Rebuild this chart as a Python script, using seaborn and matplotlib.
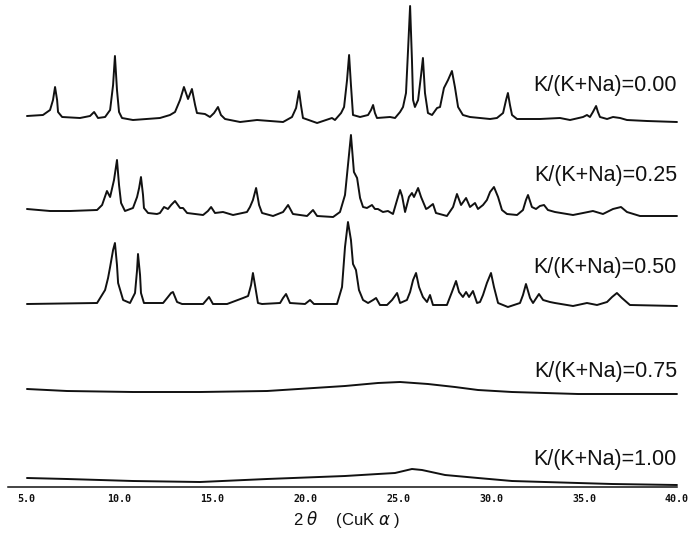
import numpy as np
import pandas as pd
import matplotlib
matplotlib.use('Agg')
import matplotlib.pyplot as plt
import seaborn as sns

# XRD patterns (2theta in degrees, intensity in arbitrary units)
samples = ['K/(K+Na)=0.00', 'K/(K+Na)=0.25', 'K/(K+Na)=0.50',
           'K/(K+Na)=0.75', 'K/(K+Na)=1.00']
offsets = [415, 323, 229, 141, 52]

tt_000 = [5.05, 5.91, 6.29, 6.45, 6.56, 6.67, 6.72, 6.94, 7.90, 8.44, 8.66, 8.87,
          9.25, 9.52, 9.68, 9.78, 9.89, 10.00, 10.16, 10.75, 12.20, 12.74, 13.01,
          13.28, 13.49, 13.71, 13.92, 14.09, 14.19, 14.62, 14.89, 15.11, 15.32,
          15.48, 15.70, 16.51, 17.42, 18.82, 19.30, 19.52, 19.68, 19.78, 19.89,
          20.65, 21.45, 21.61, 21.94, 22.10, 22.26, 22.37, 22.47, 22.58, 22.96,
          23.39, 23.55, 23.66, 23.76, 23.87, 24.57, 24.84, 25.11, 25.27, 25.43,
          25.54, 25.65, 25.75, 25.81, 25.91, 26.08, 26.24, 26.34, 26.45, 26.61,
          26.83, 27.10, 27.26, 27.47, 27.69, 27.90, 28.06, 28.23, 28.49, 28.87,
          29.95, 30.32, 30.65, 30.81, 30.91, 31.02, 31.13, 31.40, 32.63, 33.71,
          34.25, 34.95, 35.16, 35.32, 35.48, 35.65, 35.75, 35.86, 36.24, 36.56,
          36.94, 37.31, 38.39, 40.00]
int_000 = [2, 3, 8, 18, 31, 18, 6, 1, 0, 2, 6, 0,
           1, 8, 33, 62, 28, 6, 0, -2, 0, 3, 6,
           18, 31, 19, 29, 13, 5, 4, 1, 5, 11,
           3, -1, -4, -2, -4, 1, 10, 27, 13, 0,
           -5, 0, -2, 5, 11, 38, 63, 33, 3, 1,
           3, 8, 13, 5, 0, 1, 0, 6, 11, 25,
           68, 112, 58, 18, 11, 18, 43, 60, 25, 5,
           3, 10, 11, 30, 38, 47, 31, 11, 3, 1,
           -1, 0, 5, 18, 25, 13, 3, -1, -1, 0,
           -2, 1, 3, 1, 6, 12, 6, 1, -1, 1,
           0, -2, -3, -4]

tt_025 = [5.05, 6.29, 7.37, 8.82, 9.09, 9.35, 9.52, 9.73, 9.89, 10.00, 10.11, 10.32,
          10.75, 10.97, 11.08, 11.18, 11.29, 11.34, 11.56, 12.04, 12.20, 12.42, 12.63,
          12.80, 13.01, 13.28, 13.44, 13.66, 14.52, 14.78, 14.95, 15.16, 15.59, 16.13,
          16.88, 17.04, 17.20, 17.37, 17.53, 17.69, 18.28, 18.82, 19.09, 19.35, 20.11,
          20.43, 20.65, 21.51, 21.88, 22.15, 22.31, 22.47, 22.63, 22.80, 22.96, 23.12,
          23.33, 23.60, 23.76, 23.92, 24.19, 24.46, 24.73, 24.95, 25.11, 25.22, 25.38,
          25.59, 25.75, 25.86, 26.08, 26.24, 26.51, 26.61, 26.88, 27.04, 27.63, 27.96,
          28.17, 28.39, 28.66, 28.87, 29.14, 29.30, 29.57, 29.78, 29.95, 30.16, 30.38,
          30.59, 30.86, 31.40, 31.72, 31.88, 31.99, 32.20, 32.42, 32.63, 32.85, 33.06,
          33.44, 34.41, 34.95, 35.48, 36.02, 36.56, 36.99, 37.31, 38.01, 40.00]
int_025 = [1, -1, -1, 0, 5, 19, 13, 30, 50, 25, 7, -1,
           2, 13, 22, 33, 15, 2, -3, -4, -3, 3, 1,
           5, 9, 2, 2, -3, -5, -1, 3, -3, -2, -5,
           -2, 3, 10, 22, 5, -3, -6, -2, 5, -4, -6,
           0, -6, -7, -2, 15, 45, 75, 38, 32, 12, 3,
           2, 5, 1, 1, -2, -1, -4, 10, 20, 14, -2,
           13, 17, 13, 22, 13, 1, 2, 6, -3, -6, 3,
           16, 5, 12, 3, 7, 1, 5, 10, 18, 23, 13,
           0, -4, -5, 0, 10, 15, 3, 1, 4, 5, 0,
           -2, -5, -3, -1, -4, 1, 3, -2, -6, -6]

tt_050 = [5.05, 8.82, 9.25, 9.41, 9.52, 9.68, 9.78, 9.89, 9.95, 10.22, 10.59, 10.86,
          10.97, 11.02, 11.13, 11.18, 11.34, 12.37, 12.63, 12.80, 12.90, 13.12, 13.39,
          14.52, 14.84, 15.05, 15.81, 16.67, 16.94, 17.10, 17.20, 17.31, 17.47, 17.69,
          18.66, 18.82, 18.98, 19.19, 20.00, 20.27, 20.48, 21.72, 21.99, 22.15, 22.31,
          22.47, 22.58, 22.74, 22.90, 23.12, 23.39, 23.66, 23.82, 24.03, 24.41, 24.68,
          24.95, 25.11, 25.48, 25.65, 25.81, 25.97, 26.13, 26.34, 26.56, 26.72, 26.88,
          27.63, 27.90, 28.12, 28.28, 28.49, 28.66, 28.82, 29.03, 29.25, 29.41, 29.57,
          29.78, 30.00, 30.16, 30.38, 30.91, 31.56, 31.72, 31.88, 32.10, 32.26, 32.58,
          32.80, 33.17, 33.44, 34.41, 35.16, 35.70, 36.24, 36.51, 36.77, 37.04, 37.47,
          40.00]
int_050 = [0, 1, 14, 26, 37, 54, 61, 39, 21, 4, 1, 11,
           34, 50, 29, 11, 1, 1, 7, 11, 12, 2, 0,
           0, 7, 0, 0, 6, 8, 19, 31, 19, 1, 0,
           1, 6, 10, 1, 0, 4, 0, 0, 17, 57, 82,
           64, 40, 34, 14, 4, 1, 4, 6, -1, -1, 4,
           11, 1, 4, 12, 24, 31, 17, 7, 2, 9, -1,
           -1, 12, 23, 12, 7, 12, 7, 13, 1, 2, 9,
           21, 31, 17, 1, -3, 1, 9, 20, 6, 1, 10,
           4, 2, 1, -2, 1, -1, 2, 7, 11, 6, -1,
           -2]

tt_075 = [5.05, 7.20, 10.75, 14.35, 17.96, 22.15, 23.92, 25.11, 26.61, 28.06,
          29.30, 31.13, 32.90, 34.68, 40.00]
int_075 = [3, 1, 0, 0, 1, 6, 9, 10, 8, 5, 2, 0, -1, -2, -2]

tt_100 = [5.05, 7.20, 10.75, 14.35, 17.96, 22.15, 23.92, 24.84, 25.75, 26.29,
          27.53, 29.30, 31.13, 32.90, 34.68, 36.51, 40.00]
int_100 = [3, 2, 0, -1, 2, 5, 7, 8, 12, 11, 6, 3, 0, -1, -2, -3, -4]

two_theta = [tt_000, tt_025, tt_050, tt_075, tt_100]
intensity = [int_000, int_025, int_050, int_075, int_100]

tick_values = [5, 10, 15, 20, 25, 30, 35, 40]
tick_labels = ['5.0', '10.0', '15.0', '20.0', '25.0', '30.0', '35.0', '40.0']

# where the sample names sit (same units as the stacked traces)
label_y = [448, 358, 265, 161, 73]

# long table, one trace per sample, shifted up by its offset
frames = []
for name, off, tt, inten in zip(samples, offsets, two_theta, intensity):
    frames.append(pd.DataFrame({'two_theta': tt,
                                'y': np.array(inten) + off,
                                'sample': name}))
df = pd.concat(frames, ignore_index=True)

sns.set_style('white')
plt.rcParams['font.family'] = ['Liberation Sans', 'DejaVu Sans']

fig = plt.figure(figsize=(6.9, 5.33), dpi=100)
ax = fig.add_axes([0, 0, 1, 1])

sns.lineplot(data=df, x='two_theta', y='y', hue='sample',
             palette=['#111111'] * len(samples), estimator=None, sort=False,
             linewidth=1.4, legend=False, ax=ax)
for line in ax.get_lines():
    line.set_solid_joinstyle('round')

ax.set_xlim(3.60, 40.70)
ax.set_ylim(0, 533)

# sample labels at the right
for name, ly in zip(samples, label_y):
    ax.text(40.0, ly, name, ha='right', va='center',
            fontsize=15.5, color='#111111')

# bottom axis only
for side in ['top', 'left', 'right']:
    ax.spines[side].set_visible(False)
ax.spines['bottom'].set_position(('data', 46))
ax.spines['bottom'].set_bounds(4.03, 40.0)
ax.spines['bottom'].set_linewidth(1.1)
ax.spines['bottom'].set_color('#111111')
ax.set_yticks([])
ax.set_xticks(tick_values)
ax.set_xticklabels(tick_labels, family='DejaVu Sans Mono', fontweight='bold',
                   fontsize=7.2)
ax.tick_params(axis='x', direction='inout', length=5, width=0.9,
               colors='#111111', pad=2.5)
ax.set_xlabel('')
ax.set_ylabel('')

ax.text(22.26, 13, r'2 $\theta$    (CuK $\alpha$ )', ha='center', va='center',
        fontsize=12, color='#111111')

fig.savefig('out.png', dpi=100)
plt.close(fig)
